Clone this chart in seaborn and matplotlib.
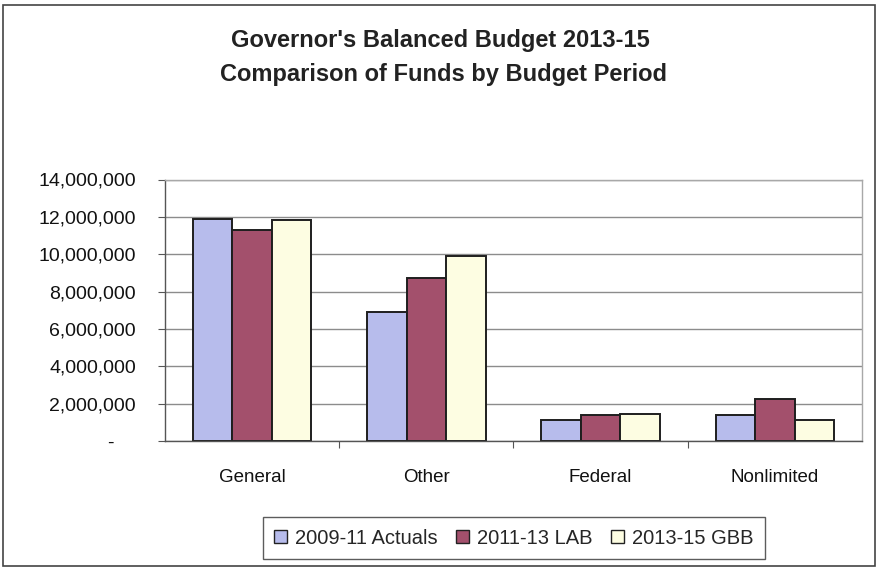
import matplotlib
matplotlib.use("Agg")
import matplotlib.pyplot as plt
from matplotlib.patches import Rectangle
from matplotlib.ticker import FuncFormatter, FixedLocator
import seaborn as sns
import pandas as pd

categories = ["General", "Other", "Federal", "Nonlimited"]
periods = ["2009-11 Actuals", "2011-13 LAB", "2013-15 GBB"]
actuals_2009_11 = [11900000, 6900000, 1100000, 1400000]
lab_2011_13 = [11320000, 8700000, 1380000, 2250000]
gbb_2013_15 = [11850000, 9880000, 1470000, 1150000]
yticks = [0, 2000000, 4000000, 6000000, 8000000, 10000000, 12000000, 14000000]
colors = ["#b7bcec", "#a3506c", "#fdfde2"]

rows = []
for series, vals in zip(periods, [actuals_2009_11, lab_2011_13, gbb_2013_15]):
    for cat, v in zip(categories, vals):
        rows.append({"Fund": cat, "Period": series, "Amount": v})
df = pd.DataFrame(rows)

sns.set_theme(style="white")
plt.rcParams["font.family"] = ["Liberation Sans", "DejaVu Sans"]

fig = plt.figure(figsize=(8.78, 5.72), dpi=100)
ax = fig.add_axes([165 / 878, 1 - 441 / 572, (862 - 165) / 878, (441 - 179.5) / 572])

sns.barplot(data=df, x="Fund", y="Amount", hue="Period", order=categories,
            hue_order=periods, palette=colors, width=0.68, gap=0,
            edgecolor="#1e1e1e", linewidth=1.4, saturation=1, ax=ax, legend=False)

ax.set_ylim(0, 14000000)
ax.set_xlim(-0.5, 3.5)
ax.yaxis.set_major_locator(FixedLocator(yticks))
# accounting-style labels: zero shown as a dash
ax.yaxis.set_major_formatter(FuncFormatter(lambda v, p: "-    " if v == 0 else f"{int(v):,}"))
ax.set_xlabel("")
ax.set_ylabel("")
ax.grid(axis="y", color="#8c8c8c", linewidth=1.0)
ax.set_axisbelow(True)
for s in ["top", "right"]:
    ax.spines[s].set_color("#a8a8a8")
    ax.spines[s].set_linewidth(1.0)
for s in ["left", "bottom"]:
    ax.spines[s].set_color("#555555")
    ax.spines[s].set_linewidth(1.0)
ax.tick_params(axis="y", left=True, length=5, width=0.8, color="#555555",
               labelsize=14, pad=16, labelcolor="#111111")
ax.tick_params(axis="x", bottom=False, labelsize=13.5, pad=14, labelcolor="#111111")
# category boundary ticks
ax.set_xticks([0.5, 1.5, 2.5], minor=True)
ax.tick_params(axis="x", which="minor", bottom=True, length=5, width=0.8, color="#555555")

fig.text(440 / 878, 1 - 40 / 572, "Governor's Balanced Budget 2013-15", ha="center", va="center",
         fontsize=17, fontweight="bold", color="#222222")
fig.text(444 / 878, 1 - 74 / 572, "Comparison of Funds by Budget Period", ha="center", va="center",
         fontsize=17, fontweight="bold", color="#222222")

# legend
handles = [Rectangle((0, 0), 1, 1, facecolor=c, edgecolor="#222222", linewidth=1.0) for c in colors]
leg = fig.legend(handles, periods, loc="center", bbox_to_anchor=(514 / 878, 1 - 538 / 572),
                 ncol=3, frameon=True, fontsize=14.5, handlelength=0.65, handleheight=0.65,
                 handletextpad=0.4, columnspacing=0.9, borderpad=0.55, fancybox=False)
leg.get_frame().set_edgecolor("#333333")
leg.get_frame().set_linewidth(1.0)

# outer chart frame
fig.patches.append(Rectangle((3 / 878, 1 - 566 / 572), 872 / 878, 561 / 572,
                             transform=fig.transFigure, fill=False,
                             edgecolor="#444444", linewidth=1.2))

fig.savefig("out.png", dpi=100)
